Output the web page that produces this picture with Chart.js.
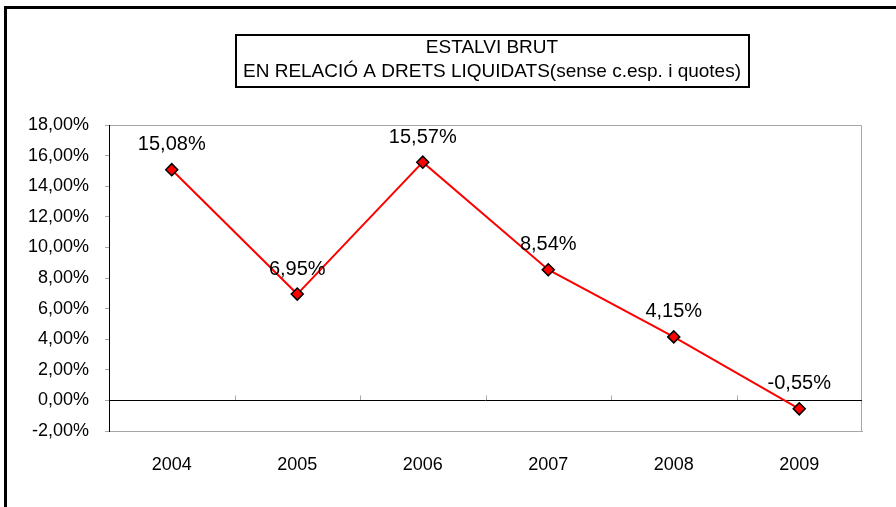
<!DOCTYPE html>
<html lang="ca">
<head>
    <meta charset="UTF-8"/>
    <title>Estalvi brut</title>
    <script src="https://cdn.jsdelivr.net/npm/chart.js"></script>
    <style>
        html, body {
            margin: 0;
            padding: 0;
            background-color: #fff;
            overflow: hidden;
        }
        .chart-wrapper {
            position: relative;
            width: 896px;
            height: 507px;
        }
    </style>
</head>
<body>
<div class="chart-wrapper">
    <canvas id="estalviChart"></canvas>
</div>

<script>
    const years = ['2004', '2005', '2006', '2007', '2008', '2009'];
    const estalviPct = [15.08, 6.95, 15.57, 8.54, 4.15, -0.55];
    const titleLines = ['ESTALVI BRUT', 'EN RELACIÓ A DRETS LIQUIDATS(sense c.esp. i quotes)'];

    const fontFamily = "'Liberation Sans', Arial, sans-serif";

    function fmtPct(v) {
        return v.toFixed(2).replace('.', ',') + '%';
    }

    // frame, title box, zero line and point labels
    const extrasPlugin = {
        id: 'extras',
        beforeDraw(chart) {
            const ctx = chart.ctx;
            ctx.save();
            // outer frame (top + left only visible)
            ctx.strokeStyle = '#000';
            ctx.lineWidth = 3;
            ctx.beginPath();
            ctx.moveTo(5.5, 507);
            ctx.lineTo(5.5, 7.5);
            ctx.lineTo(896, 7.5);
            ctx.stroke();

            // title box
            ctx.lineWidth = 2;
            ctx.strokeRect(236, 35, 513, 52);
            ctx.fillStyle = '#000';
            ctx.font = '19px ' + fontFamily;
            ctx.textAlign = 'center';
            ctx.textBaseline = 'middle';
            ctx.fillText(titleLines[0], 492, 48);
            ctx.fillText(titleLines[1], 492, 72);

            // plot border top/right
            const a = chart.chartArea;
            ctx.strokeStyle = '#a6a6a6';
            ctx.lineWidth = 1;
            ctx.beginPath();
            ctx.moveTo(a.left, a.top + 0.5);
            ctx.lineTo(a.right - 0.5, a.top + 0.5);
            ctx.lineTo(a.right - 0.5, a.bottom);
            ctx.stroke();
            ctx.restore();
        },
        beforeDatasetsDraw(chart) {
            const ctx = chart.ctx;
            const a = chart.chartArea;
            const y0 = Math.round(chart.scales.y.getPixelForValue(0)) + 0.5;
            ctx.save();
            // category ticks on the zero line
            ctx.strokeStyle = '#a6a6a6';
            ctx.lineWidth = 1;
            ctx.beginPath();
            for (let i = 1; i < years.length; i++) {
                const px = Math.round(a.left + (a.right - a.left) * i / years.length) + 0.5;
                ctx.moveTo(px, y0);
                ctx.lineTo(px, y0 - 5);
            }
            ctx.stroke();
            // zero line
            ctx.strokeStyle = '#000';
            ctx.beginPath();
            ctx.moveTo(a.left, y0);
            ctx.lineTo(a.right, y0);
            ctx.stroke();
            ctx.restore();
        },
        afterDatasetsDraw(chart) {
            const ctx = chart.ctx;
            const meta = chart.getDatasetMeta(0);
            ctx.save();
            ctx.fillStyle = '#000';
            ctx.font = '20px ' + fontFamily;
            ctx.textAlign = 'center';
            ctx.textBaseline = 'middle';
            meta.data.forEach((pt, i) => {
                ctx.fillText(fmtPct(estalviPct[i]), pt.x, pt.y - 25);
            });
            ctx.restore();
        }
    };

    const ctxEstalvi = document.getElementById('estalviChart').getContext('2d');

    new Chart(ctxEstalvi, {
        type: 'line',
        data: {
            labels: years,
            datasets: [{
                data: estalviPct,
                borderColor: '#ff0000',
                borderWidth: 2,
                pointStyle: 'rectRot',
                pointRadius: 6,
                pointBackgroundColor: '#ff0000',
                pointBorderColor: '#000',
                pointBorderWidth: 1.5,
                tension: 0
            }]
        },
        options: {
            responsive: true,
            maintainAspectRatio: false,
            animation: false,
            layout: {
                padding: { top: 125, right: 34, bottom: 0, left: 0 }
            },
            scales: {
                x: {
                    offset: true,
                    afterFit(scale) { scale.height = 76; },
                    grid: { display: false },
                    border: { display: true, color: '#a6a6a6', width: 1 },
                    ticks: {
                        color: '#000',
                        padding: 15,
                        font: { family: fontFamily, size: 18 }
                    }
                },
                y: {
                    min: -2,
                    max: 18,
                    afterFit(scale) { scale.width = 109; },
                    grid: {
                        drawOnChartArea: false,
                        color: '#a6a6a6',
                        tickLength: 4
                    },
                    border: { display: true, color: '#000', width: 1 },
                    ticks: {
                        stepSize: 2,
                        color: '#000',
                        padding: 16,
                        font: { family: fontFamily, size: 18 },
                        callback: function(value) { return fmtPct(value); }
                    }
                }
            },
            plugins: {
                legend: { display: false },
                tooltip: { enabled: false }
            }
        },
        plugins: [extrasPlugin]
    });
</script>
</body>
</html>
